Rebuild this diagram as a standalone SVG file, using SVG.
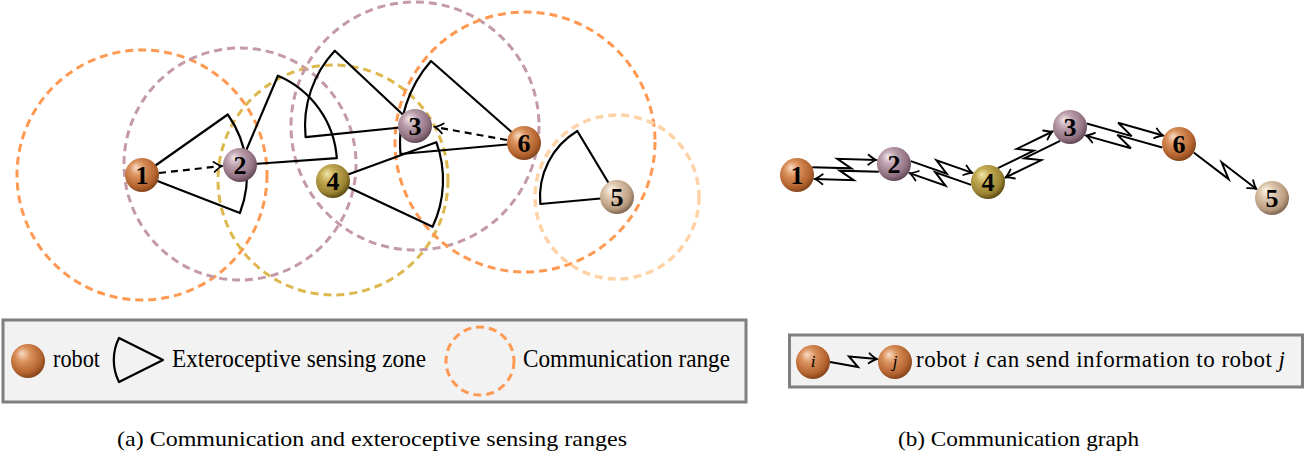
<svg xmlns="http://www.w3.org/2000/svg" width="1306" height="454" viewBox="0 0 1306 454">
<defs>
<style>
.range{fill:none;stroke-width:3;stroke-dasharray:8 5}
.orange{stroke:#ff9850}
.mauve{stroke:#c49aa9}
.yellow{stroke:#dcb84e}
.peach{stroke:#ffd3a8;stroke-width:3.5}
.zone{fill:none;stroke:#000;stroke-width:2.2;stroke-linejoin:round}
.dash{fill:none;stroke:#000;stroke-width:2.2;stroke-dasharray:7 5;marker-end:url(#ah)}
.link{fill:none;stroke:#000;stroke-width:2;stroke-linejoin:miter;marker-end:url(#ah)}
.num{font-family:"Liberation Serif",serif;font-weight:bold;font-size:26px;text-anchor:middle;fill:#000}
.lbl{font-family:"Liberation Serif",serif;font-size:25px;fill:#000}
.cap{font-family:"Liberation Serif",serif;font-size:22px;fill:#000}
.ital{font-family:"Liberation Serif",serif;font-style:italic;font-size:17px;text-anchor:middle;fill:#000}
.box{fill:#f2f2f2;stroke:#7f7f7f;stroke-width:3}
</style>
<radialGradient id="gO" cx="0.42" cy="0.38" r="0.62" fx="0.32" fy="0.28">
<stop offset="0" stop-color="#f8dcc6"/>
<stop offset="0.35" stop-color="#da915c"/>
<stop offset="0.8" stop-color="#b4632e"/>
<stop offset="1" stop-color="#86461c"/>
</radialGradient>
<radialGradient id="gM" cx="0.42" cy="0.38" r="0.62" fx="0.32" fy="0.28">
<stop offset="0" stop-color="#f2e8ec"/>
<stop offset="0.35" stop-color="#bea2ae"/>
<stop offset="0.8" stop-color="#927282"/>
<stop offset="1" stop-color="#634a57"/>
</radialGradient>
<radialGradient id="gY" cx="0.42" cy="0.38" r="0.62" fx="0.32" fy="0.28">
<stop offset="0" stop-color="#f2e6aa"/>
<stop offset="0.35" stop-color="#c3ac54"/>
<stop offset="0.8" stop-color="#9a8232"/>
<stop offset="1" stop-color="#5f4e16"/>
</radialGradient>
<radialGradient id="gT" cx="0.42" cy="0.38" r="0.62" fx="0.32" fy="0.28">
<stop offset="0" stop-color="#fcf5ec"/>
<stop offset="0.35" stop-color="#dec8ae"/>
<stop offset="0.8" stop-color="#b99c80"/>
<stop offset="1" stop-color="#806852"/>
</radialGradient>
<marker id="ah" viewBox="-10 -7 12 14" refX="0" refY="0" markerWidth="12" markerHeight="14" markerUnits="userSpaceOnUse" orient="auto">
<path d="M-8,-5 Q-3,-1 0,0 Q-3,1 -8,5" fill="none" stroke="#000" stroke-width="1.8" stroke-linecap="round"/>
</marker>
</defs>

<!-- (a) communication ranges -->
<g id="ranges">
<circle class="range orange" cx="142" cy="175" r="125"/>
<circle class="range mauve" cx="240" cy="164" r="116"/>
<circle class="range yellow" cx="333" cy="180" r="115"/>
<circle class="range mauve" cx="415" cy="126" r="124"/>
<circle class="range orange" cx="525" cy="142" r="130"/>
<circle class="range peach" cx="617" cy="197" r="82"/>
</g>

<!-- (a) sensing zones -->
<g id="zones">
<path class="zone" d="M142,175 L227.8,114.5 A105,105 0 0 1 239.9,213 Z"/>
<path class="zone" d="M240,165 L277.9,75.7 A97,97 0 0 1 336.8,158.2 Z"/>
<path class="zone" d="M415,126 L305.6,137.1 A110,110 0 0 1 334.8,50.7 Z"/>
<path class="zone" d="M524,143 L400.5,154 A124,124 0 0 1 431,61 Z"/>
<path class="zone" d="M333,180 L436.3,142.2 A110,110 0 0 1 432.6,226.8 Z"/>
<path class="zone" d="M617,197 L540.3,204 A77,77 0 0 1 577.3,131 Z"/>
</g>

<!-- (a) connectors -->
<g id="a-connectors">
<path class="dash" d="M159,173 L222,166"/>
<path class="dash" d="M507,140 L435,127"/>
</g>

<!-- (a) robots -->
<g id="a-robot1"><circle cx="142" cy="175" r="17" fill="url(#gO)"/><text class="num" x="142" y="184">1</text></g>
<g id="a-robot2"><circle cx="240" cy="165" r="17" fill="url(#gM)"/><text class="num" x="240" y="174">2</text></g>
<g id="a-robot4"><circle cx="333" cy="181" r="17" fill="url(#gY)"/><text class="num" x="333" y="190">4</text></g>
<g id="a-robot3"><circle cx="415" cy="126" r="17" fill="url(#gM)"/><text class="num" x="415" y="135">3</text></g>
<g id="a-robot6"><circle cx="524" cy="143" r="17" fill="url(#gO)"/><text class="num" x="524" y="152">6</text></g>
<g id="a-robot5"><circle cx="617" cy="197" r="17" fill="url(#gT)"/><text class="num" x="617" y="206">5</text></g>

<!-- (a) legend -->
<g id="a-legend">
<rect class="box" x="3" y="320" width="743" height="82"/>
<circle cx="28" cy="361" r="17" fill="url(#gO)"/>
<text class="lbl" x="53" y="367" textLength="47" lengthAdjust="spacingAndGlyphs">robot</text>
<path class="zone" d="M163,360 L119,338 A49,49 0 0 0 119,382 Z"/>
<text class="lbl" x="172" y="367" textLength="254" lengthAdjust="spacingAndGlyphs">Exteroceptive sensing zone</text>
<circle class="range orange" cx="480" cy="361" r="34"/>
<text class="lbl" x="523" y="367" textLength="207" lengthAdjust="spacingAndGlyphs">Communication range</text>
</g>
<text class="cap" x="117" y="446" textLength="510" lengthAdjust="spacingAndGlyphs">(a) Communication and exteroceptive sensing ranges</text>

<!-- (b) connectors -->
<g id="b-connectors">
<polyline class="link" points="812.2,167.2 851.3,168.3 837.3,158.8 876.4,160.0"/>
<polyline class="link" points="878.8,171.8 839.7,170.7 853.7,180.2 814.6,179.0"/>
<polyline class="link" points="910.8,161.1 946.7,173.6 936.5,160.4 972.4,172.9"/>
<polyline class="link" points="971.2,184.9 935.3,172.4 945.5,185.6 909.6,173.1"/>
<polyline class="link" points="997.9,168.1 1033.7,150.7 1016.7,148.9 1052.5,131.5"/>
<polyline class="link" points="1060.1,140.9 1024.3,158.3 1041.3,160.1 1005.5,177.5"/>
<polyline class="link" points="1086.7,123.5 1131.7,136.1 1118.1,122.8 1163.1,135.5"/>
<polyline class="link" points="1162.3,147.5 1117.3,134.9 1130.9,148.2 1085.9,135.6"/>
<polyline class="link" points="1193.7,152.5 1228.6,179.1 1221.6,162.3 1256.4,189.0"/>
</g>

<!-- (b) robots -->
<g id="b-robot1"><circle cx="797" cy="175" r="17" fill="url(#gO)"/><text class="num" x="797" y="184">1</text></g>
<g id="b-robot2"><circle cx="894" cy="164" r="17" fill="url(#gM)"/><text class="num" x="894" y="173">2</text></g>
<g id="b-robot4"><circle cx="988" cy="182" r="17" fill="url(#gY)"/><text class="num" x="988" y="191">4</text></g>
<g id="b-robot3"><circle cx="1070" cy="127" r="17" fill="url(#gM)"/><text class="num" x="1070" y="136">3</text></g>
<g id="b-robot6"><circle cx="1179" cy="144" r="17" fill="url(#gO)"/><text class="num" x="1179" y="153">6</text></g>
<g id="b-robot5"><circle cx="1272" cy="198" r="17" fill="url(#gT)"/><text class="num" x="1272" y="207">5</text></g>

<!-- (b) legend -->
<g id="b-legend">
<rect class="box" x="789.5" y="335" width="513" height="52"/>
<polyline class="link" points="830,362 858,367 849,356.5 877,359"/>
<circle cx="813" cy="362" r="17" fill="url(#gO)"/>
<text class="ital" x="813" y="367">i</text>
<circle cx="895" cy="362" r="17" fill="url(#gO)"/>
<text class="ital" x="895" y="367">j</text>
<text x="916" y="367" textLength="369" lengthAdjust="spacing" font-family="Liberation Serif, serif" font-size="23" fill="#000">robot <tspan font-style="italic">i</tspan> can send information to robot <tspan font-style="italic">j</tspan></text>
</g>
<text class="cap" x="898" y="446" textLength="241" lengthAdjust="spacingAndGlyphs">(b) Communication graph</text>
</svg>
